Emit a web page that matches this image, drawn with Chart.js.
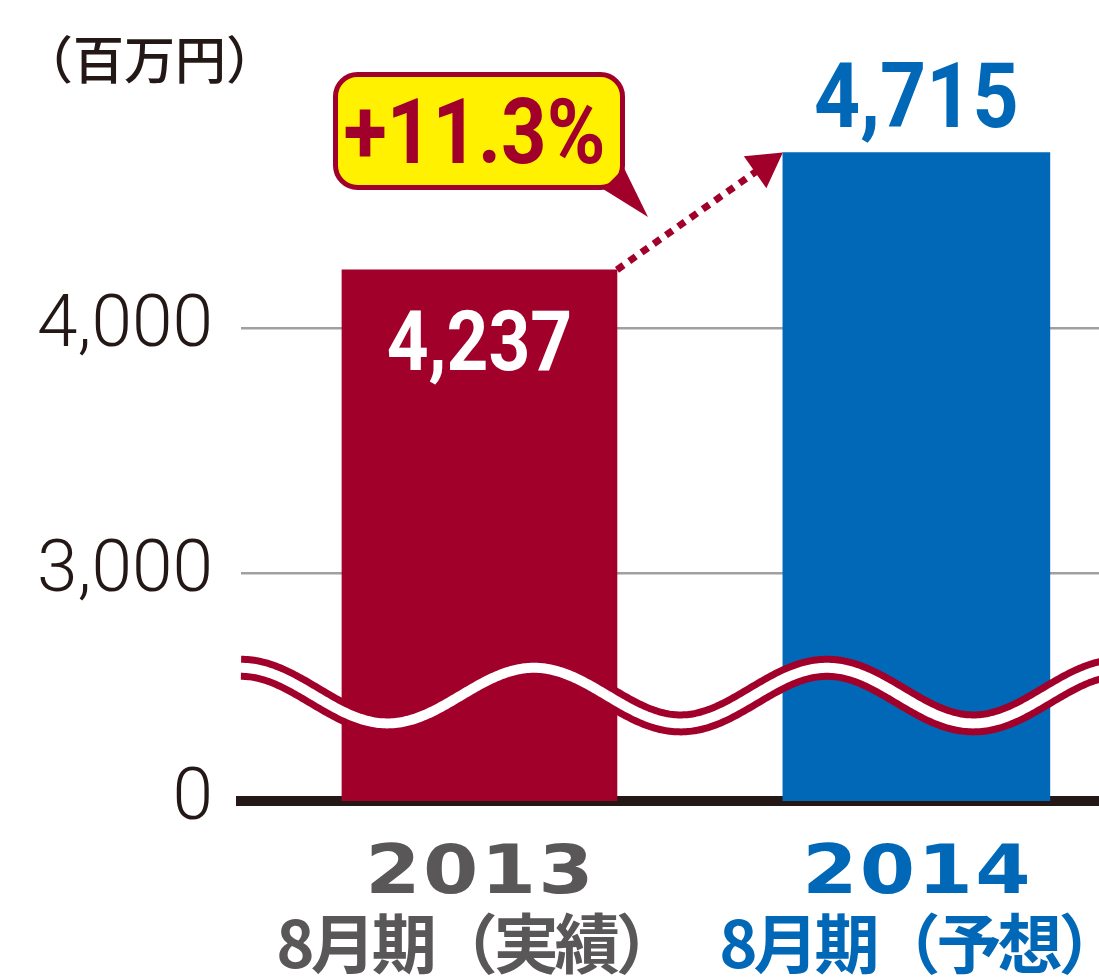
<!DOCTYPE html>
<html><head><meta charset="utf-8">
<script src="https://cdn.jsdelivr.net/npm/chart.js@4/dist/chart.umd.min.js"></script>
<style>html,body{margin:0;padding:0;background:#fff;overflow:hidden}canvas{display:block}</style>
</head><body>
<canvas id="c" width="1099" height="977"></canvas>
<script>
// ---- data ----
const years = ['2013', '2014'];
const periods = ['8月期（実績）', '8月期（予想）'];
const values = [4237, 4715];
const yTicks = [0, 3000, 4000];
const unitLabel = '（百万円）';

// ---- styling ----
const barColors = ['#a1002b', '#0068b7'];
const labelColors = ['#595757', '#0068b7'];
const RED = '#a1002b';
const BREAK_MIN = 2070;   // broken axis: this value is drawn at the "0" baseline
const AXIS_MAX = 5260;
const WAVE_VALUE = 2500;  // centre of the break wave

function drawFit(ctx, text, cx, baseline, font, inkWidth, color) {
  ctx.save();
  ctx.font = font;
  const m = ctx.measureText(text);
  const w = m.actualBoundingBoxLeft + m.actualBoundingBoxRight;
  const sx = inkWidth / w;
  ctx.translate(cx, baseline);
  ctx.scale(sx, 1);
  ctx.textAlign = 'center';
  ctx.textBaseline = 'alphabetic';
  ctx.fillStyle = color;
  ctx.fillText(text, 0, 0);
  ctx.restore();
}

const decor = {
  id: 'decor',
  afterDatasetsDraw(chart) {
    const ctx = chart.ctx, a = chart.chartArea, ys = chart.scales.y;
    const mid = ys.getPixelForValue(WAVE_VALUE);
    const A = 27.8, P = 293;
    ctx.save();
    ctx.beginPath();
    for (let x = a.left; x <= chart.width + 4; x += 2) {
      const y = mid - A * Math.cos(2 * Math.PI * (x - a.left) / P);
      if (x === a.left) ctx.moveTo(x, y); else ctx.lineTo(x, y);
    }
    ctx.lineCap = 'butt';
    ctx.lineJoin = 'round';
    ctx.strokeStyle = RED; ctx.lineWidth = 24; ctx.stroke();
    ctx.strokeStyle = '#ffffff'; ctx.lineWidth = 10; ctx.stroke();
    ctx.restore();
  },
  afterDraw(chart) {
    const ctx = chart.ctx, xs = chart.scales.x;
    const b0 = chart.getDatasetMeta(0).data[0];
    const b1 = chart.getDatasetMeta(1).data[0];

    // value labels
    drawFit(ctx, values[0].toLocaleString('en-US'), b0.x, 370, 'bold 84px Roboto', 181, '#ffffff');
    drawFit(ctx, values[1].toLocaleString('en-US'), b1.x, 127, 'bold 91px Roboto', 200, barColors[1]);

    // dotted arrow from bar top to bar top
    const sx = b0.x + b0.width / 2, sy = b0.y;
    const ex = b1.x - b1.width / 2, ey = b1.y;
    const dx = ex - sx, dy = ey - sy, L = Math.hypot(dx, dy);
    const ux = dx / L, uy = dy / L, nx = -uy, ny = ux;
    const headLen = 34, headHalf = 19.5;
    const bx = ex - ux * headLen, by = ey - uy * headLen;
    ctx.save();
    ctx.strokeStyle = RED; ctx.lineWidth = 7; ctx.setLineDash([8, 7]);
    ctx.beginPath(); ctx.moveTo(sx, sy); ctx.lineTo(bx + ux * 2, by + uy * 2); ctx.stroke();
    ctx.setLineDash([]);
    ctx.fillStyle = RED;
    ctx.beginPath();
    ctx.moveTo(ex, ey);
    ctx.lineTo(bx + nx * headHalf, by + ny * headHalf);
    ctx.lineTo(bx - nx * headHalf, by - ny * headHalf);
    ctx.closePath(); ctx.fill();
    ctx.restore();

    // callout
    ctx.save();
    const rx = 335.5, ry = 74.5, rw = 287, rh = 113, rr = 22;
    ctx.beginPath();
    ctx.roundRect(rx, ry, rw, rh, rr);
    ctx.fillStyle = '#fff100'; ctx.fill();
    ctx.lineWidth = 5; ctx.strokeStyle = RED; ctx.stroke();
    ctx.beginPath();
    ctx.moveTo(603, 189); ctx.lineTo(624, 168); ctx.lineTo(648, 217); ctx.closePath();
    ctx.fillStyle = RED; ctx.fill();
    ctx.restore();
    const pct = '+' + ((values[1] / values[0] - 1) * 100).toFixed(1) + '%';
    drawFit(ctx, pct, 474.5, 163, 'bold 90px Roboto', 257, RED);

    // unit label
    ctx.save();
    ctx.font = '500 51px "Noto Sans CJK JP"';
    ctx.fillStyle = '#231815';
    ctx.textAlign = 'left'; ctx.textBaseline = 'alphabetic';
    ctx.fillText(unitLabel, 22, 79);
    ctx.restore();

    // category labels
    years.forEach((yr, i) => {
      const cx = xs.getPixelForValue(i);
      ctx.save();
      ctx.fillStyle = labelColors[i];
      ctx.textAlign = 'center'; ctx.textBaseline = 'alphabetic';
      ctx.save();
      ctx.translate(cx, 893);
      ctx.scale(1.17, 1);
      ctx.font = 'bold 68px "DejaVu Sans"';
      ctx.letterSpacing = '2px';
      ctx.fillText(yr, 1, 0);
      ctx.restore();
      ctx.font = 'bold 65px "Noto Sans CJK JP"';
      ctx.letterSpacing = '-4px';
      ctx.fillText(periods[i], cx - 3 + i * 6, 968);
      ctx.restore();
    });
  }
};

new Chart(document.getElementById('c'), {
  type: 'bar',
  data: {
    datasets: values.map((v, i) => ({
      label: years[i],
      data: [{ x: i, y: v }],
      backgroundColor: barColors[i],
      borderWidth: 0,
      grouped: false,
      barThickness: i === 0 ? 275 : 267
    }))
  },
  options: {
    responsive: false,
    animation: false,
    events: [],
    layout: { padding: { top: 19, left: 0, right: 0, bottom: 0 } },
    plugins: { legend: { display: false }, tooltip: { enabled: false } },
    scales: {
      x: {
        type: 'linear', min: -0.5458, max: 1.418, z: 1, offset: false,
        afterBuildTicks(s) { s.ticks = years.map((_, i) => ({ value: i })); },
        afterFit(s) { s.height = 176; s.paddingLeft = 0; s.paddingRight = 0; },
        grid: { display: false, drawTicks: false },
        ticks: { display: false },
        border: { display: true, color: '#231815', width: 10 }
      },
      y: {
        type: 'linear', min: BREAK_MIN, max: AXIS_MAX,
        afterBuildTicks(s) { s.ticks = yTicks.map(v => ({ value: v === 0 ? BREAK_MIN : v })); },
        afterFit(s) { s.width = 241; s.paddingTop = 0; s.paddingBottom = 0; },
        border: { display: false },
        grid: {
          drawTicks: false, lineWidth: 2.5,
          color: c => (c.tick && c.tick.value === BREAK_MIN) ? 'rgba(0,0,0,0)' : '#9fa0a0'
        },
        ticks: {
          padding: 28, color: '#231815',
          font: { family: 'Roboto, sans-serif', size: 73, weight: 300 },
          callback: v => v === BREAK_MIN ? '0' : Number(v).toLocaleString('en-US')
        }
      }
    }
  },
  plugins: [decor]
});
</script>
</body></html>
